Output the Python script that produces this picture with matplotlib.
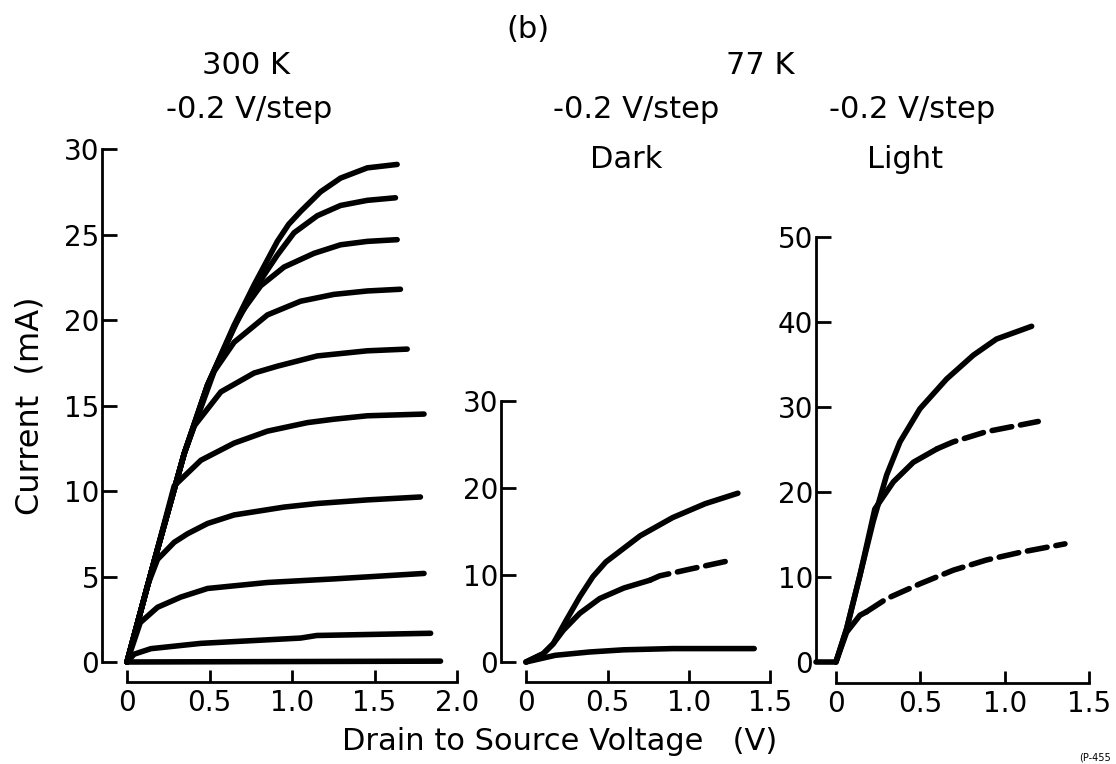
import matplotlib
matplotlib.use('Agg')
import matplotlib.pyplot as plt

plt.rcParams['font.family'] = ['DejaVu Sans']

W, H = 1116, 764

# ---- 300 K, -0.2 V/step (V, mA), top curve first ----
c1_v = [0, 0.165, 0.347, 0.488, 0.649, 0.77, 0.911, 0.98, 1.052, 1.173, 1.294, 1.456, 1.637]
c1_i = [0, 5.9, 12.2, 16.2, 19.7, 22.05, 24.6, 25.6, 26.35, 27.5, 28.3, 28.9, 29.1]
c2_v = [0, 0.165, 0.347, 0.488, 0.649, 0.79, 0.911, 1.012, 1.153, 1.294, 1.456, 1.627]
c2_i = [0, 5.9, 12.2, 16.2, 19.6, 22.05, 23.8, 25.1, 26.1, 26.7, 27.0, 27.15]
c3_v = [0, 0.165, 0.347, 0.488, 0.69, 0.81, 0.952, 1.133, 1.294, 1.456, 1.637]
c3_i = [0, 5.9, 12.2, 16.2, 20.4, 22.0, 23.1, 23.9, 24.4, 24.6, 24.7]
c4_v = [0, 0.165, 0.347, 0.528, 0.649, 0.851, 1.052, 1.254, 1.456, 1.657]
c4_i = [0, 5.9, 12.2, 17.0, 18.7, 20.3, 21.1, 21.5, 21.7, 21.8]
c5_v = [0, 0.165, 0.347, 0.407, 0.569, 0.77, 0.911, 1.153, 1.456, 1.698]
c5_i = [0, 5.9, 12.2, 13.8, 15.8, 16.9, 17.3, 17.9, 18.2, 18.3]
c6_v = [0, 0.165, 0.286, 0.448, 0.649, 0.851, 1.093, 1.254, 1.456, 1.8]
c6_i = [0, 5.9, 10.3, 11.8, 12.8, 13.5, 14.0, 14.2, 14.4, 14.5]
c7_v = [0, 0.125, 0.185, 0.286, 0.367, 0.488, 0.649, 0.952, 1.153, 1.456, 1.778]
c7_i = [0, 4.5, 6.0, 7.0, 7.5, 8.1, 8.6, 9.06, 9.27, 9.48, 9.65]
c8_v = [0, 0.08, 0.185, 0.327, 0.488, 0.851, 1.254, 1.8]
c8_i = [0, 2.3, 3.2, 3.8, 4.3, 4.65, 4.86, 5.18]
c9_v = [0, 0.044, 0.145, 0.448, 1.052, 1.15, 1.84]
c9_i = [0, 0.46, 0.78, 1.09, 1.4, 1.55, 1.68]
c10_v = [0, 1.9]
c10_i = [0, 0.05]

# ---- 77 K dark ----
d_top_v = [0, 0.106, 0.167, 0.247, 0.33, 0.41, 0.49, 0.7, 0.9, 1.1, 1.3]
d_top_i = [0, 0.96, 2.1, 4.8, 7.5, 9.8, 11.5, 14.5, 16.6, 18.2, 19.4]
d_mid_v = [0, 0.106, 0.167, 0.229, 0.33, 0.453, 0.6, 0.76]
d_mid_i = [0, 0.96, 2.1, 3.65, 5.6, 7.3, 8.5, 9.4]
d_mid_dash_v = [0.76, 0.82, 1.0, 1.26]
d_mid_dash_i = [9.4, 9.9, 10.65, 11.7]
d_low_v = [0, 0.18, 0.39, 0.6, 0.9, 1.4]
d_low_i = [0, 0.77, 1.15, 1.4, 1.54, 1.54]

# ---- 77 K light ----
l_top_v = [-0.118, 0, 0.063, 0.142, 0.22, 0.3, 0.379, 0.497, 0.655, 0.813, 0.95, 1.158]
l_top_i = [0, 0, 3.9, 10.2, 16.5, 22.0, 25.9, 29.8, 33.3, 36.1, 38.0, 39.5]
l_mid_v = [0, 0.063, 0.142, 0.23, 0.34, 0.458, 0.6]
l_mid_i = [0, 3.9, 10.2, 18.0, 21.2, 23.5, 25.1]
l_mid_dash_v = [0.6, 0.694, 0.89, 1.197]
l_mid_dash_i = [25.1, 25.9, 27.1, 28.3]
l_low_v = [0, 0.063, 0.142, 0.18]
l_low_i = [0, 3.5, 5.5, 5.9]
l_low_dash_v = [0.18, 0.3, 0.497, 0.694, 0.89, 1.09, 1.355]
l_low_dash_i = [5.9, 7.45, 9.2, 10.8, 12.0, 12.9, 13.9]

fig = plt.figure(figsize=(W / 100, H / 100), dpi=100)


def panel(left, right, top, bottom, xlim, ylim, xb, yb, yticks, xticks, xlabels):
    ax = fig.add_axes([left / W, 1 - bottom / H, (right - left) / W, (bottom - top) / H])
    ax.set_xlim(xlim)
    ax.set_ylim(ylim)
    ax.patch.set_alpha(0)
    for s in ['top', 'right']:
        ax.spines[s].set_visible(False)
    ax.spines['left'].set_bounds(*yb)
    ax.spines['bottom'].set_bounds(*xb)
    for s in ['left', 'bottom']:
        ax.spines[s].set_linewidth(2)
    ax.set_yticks(yticks)
    ax.set_yticklabels([str(t) for t in yticks])
    ax.set_xticks(xticks)
    ax.set_xticklabels(xlabels)
    ax.tick_params(axis='y', direction='in', length=11, width=2, pad=2, labelsize=20)
    ax.tick_params(axis='x', direction='in', length=9, width=2, pad=5, labelsize=20)
    return ax


lw = 4
kw = dict(color='black', lw=lw, solid_capstyle='round', dash_capstyle='round', clip_on=False)

ax1 = panel(102, 460, 147, 682, (-0.1515, 2.018), (-1.17, 30.12), (0, 2.0), (0, 30),
            [0, 5, 10, 15, 20, 25, 30], [0, 0.5, 1.0, 1.5, 2.0], ['0', '0.5', '1.0', '1.5', '2.0'])
for v, i in [(c1_v, c1_i), (c2_v, c2_i), (c3_v, c3_i), (c4_v, c4_i), (c5_v, c5_i),
             (c6_v, c6_i), (c7_v, c7_i), (c8_v, c8_i), (c9_v, c9_i), (c10_v, c10_i)]:
    ax1.plot(v, i, **kw)

ax2 = panel(501, 774, 399, 682, (-0.1534, 1.5215), (-2.3, 30.23), (0, 1.5), (0, 30),
            [0, 10, 20, 30], [0, 0.5, 1.0, 1.5], ['0', '0.5', '1.0', '1.5'])
ax2.plot(d_top_v, d_top_i, **kw)
ax2.plot(d_mid_v, d_mid_i, **kw)
ax2.plot(d_mid_dash_v, d_mid_dash_i, ls=(0, (3.6, 1.6)), **kw)
ax2.plot(d_low_v, d_low_i, **kw)

ax3 = panel(816, 1093, 235, 683, (-0.118, 1.521), (-2.47, 50.24), (0, 1.5), (0, 50),
            [0, 10, 20, 30, 40, 50], [0, 0.5, 1.0, 1.5], ['0', '0.5', '1.0', '1.5'])
ax3.plot(l_top_v, l_top_i, **kw)
ax3.plot(l_mid_v, l_mid_i, **kw)
ax3.plot(l_mid_dash_v, l_mid_dash_i, ls=(0, (3.6, 1.6)), **kw)
ax3.plot(l_low_v, l_low_i, **kw)
ax3.plot(l_low_dash_v, l_low_dash_i, ls=(0, (3.6, 1.6)), **kw)


def ftext(x, y, s, **k):
    fig.text(x / W, 1 - y / H, s, ha='center', va='center', **k)


ftext(528, 30, '(b)', fontsize=22)
ftext(246, 65, '300 K', fontsize=22)
ftext(760, 65, '77 K', fontsize=22)
ftext(249, 110, '-0.2 V/step', fontsize=22)
ftext(636, 110, '-0.2 V/step', fontsize=22)
ftext(912, 110, '-0.2 V/step', fontsize=22)
ftext(626, 160, 'Dark', fontsize=22)
ftext(905, 160, 'Light', fontsize=22)
ftext(30, 406, 'Current  (mA)', fontsize=23, rotation=90)
ftext(560, 742, 'Drain to Source Voltage   (V)', fontsize=22)
ftext(1095, 757, '(P-455', fontsize=7)

fig.savefig('out.png', dpi=100)
